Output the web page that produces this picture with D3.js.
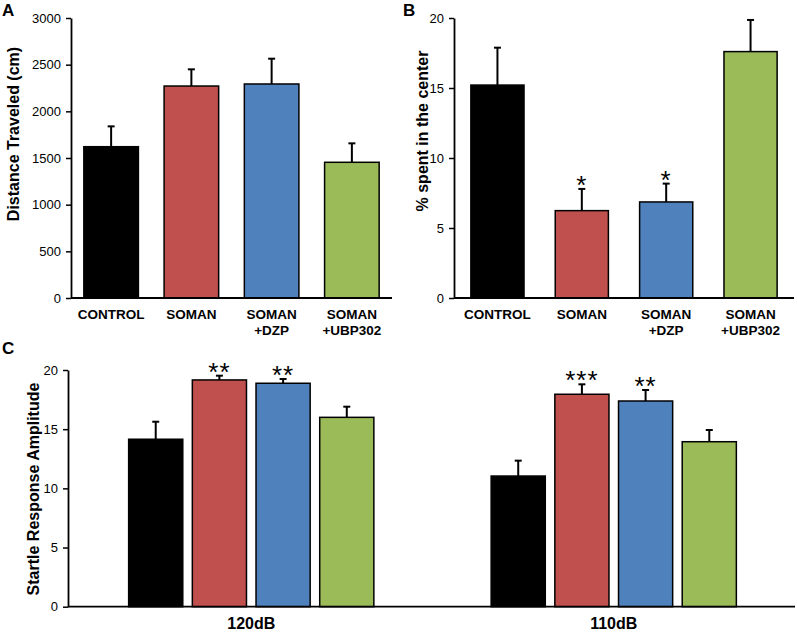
<!DOCTYPE html>
<html>
<head>
<meta charset="utf-8">
<script src="https://cdn.jsdelivr.net/npm/d3@7"></script>
<style>
    body { margin: 0; background: #fff; }
    svg { display: block; font-family: "Liberation Sans", Arial, sans-serif; }
    .cat-label { font-size: 13.5px; font-weight: bold; }
    .axis-title { font-size: 16px; font-weight: bold; }
    .panel-letter { font-size: 17px; font-weight: bold; }
    .star { font-size: 26px; }
</style>
</head>
<body>
<svg id="chart" width="797" height="633"></svg>
<script>
(function () {
    "use strict";

    // Shared groups + colours
    const groupLabels = [["CONTROL"], ["SOMAN"], ["SOMAN", "+DZP"], ["SOMAN", "+UBP302"]];
    const groupColors = ["#000000", "#C0504D", "#4F81BD", "#9BBB59"];

    // Panel A: distance traveled (cm)
    const distMean = [1621, 2271, 2293, 1454];
    const distErr = [218, 179, 271, 203];
    const distTicks = [0, 500, 1000, 1500, 2000, 2500, 3000];

    // Panel B: % time spent in the center
    const centerMean = [15.21, 6.24, 6.86, 17.6];
    const centerErr = [2.67, 1.55, 1.31, 2.26];
    const centerStars = ["", "*", "*", ""];
    const centerTicks = [0, 5, 10, 15, 20];

    // Panel C: startle response amplitude by stimulus level
    const startleLevels = ["120dB", "110dB"];
    const startle120 = [14.15, 19.16, 18.88, 16.0];
    const startle120Err = [1.48, 0.36, 0.36, 0.9];
    const startle120Stars = ["", "**", "**", ""];
    const startle110 = [11.04, 17.95, 17.38, 13.94];
    const startle110Err = [1.3, 0.84, 0.93, 0.99];
    const startle110Stars = ["", "***", "**", ""];
    const startleTicks = [0, 5, 10, 15, 20];

    const svg = d3.select("#chart");

    function yAxis(g, y, ticks, xPos) {
        g.append("g")
            .attr("transform", `translate(${xPos},0)`)
            .call(d3.axisLeft(y).tickValues(ticks).tickFormat(d3.format("d"))
                .tickSize(5).tickSizeOuter(0).tickPadding(5))
            // d3 sets font attrs on the group during call -> override afterwards
            .attr("font-family", "'Liberation Sans', Arial, sans-serif")
            .attr("font-size", 13)
            .call((a) => a.select(".domain").attr("stroke", "#000").attr("stroke-width", 1.8))
            .call((a) => a.selectAll(".tick line").attr("stroke", "#000").attr("stroke-width", 1.5))
            .call((a) => a.selectAll(".tick text").attr("fill", "#000"));
    }

    // bars + upward error bars + significance stars for one set of values
    function drawBars(g, xPos, bw, y, means, errs, stars) {
        const d = means.map((m, i) => ({ i, m, e: errs[i], s: stars ? stars[i] : "" }));

        // error bars first so bar outline sits over the stem base
        g.selectAll(null).data(d).enter().append("line")
            .attr("x1", (v) => xPos(v.i) + bw / 2).attr("x2", (v) => xPos(v.i) + bw / 2)
            .attr("y1", (v) => y(v.m)).attr("y2", (v) => y(v.m + v.e))
            .attr("stroke", "#000").attr("stroke-width", 2);
        g.selectAll(null).data(d).enter().append("line")
            .attr("x1", (v) => xPos(v.i) + bw / 2 - 3.5).attr("x2", (v) => xPos(v.i) + bw / 2 + 3.5)
            .attr("y1", (v) => y(v.m + v.e)).attr("y2", (v) => y(v.m + v.e))
            .attr("stroke", "#000").attr("stroke-width", 2);

        g.selectAll(null).data(d).enter().append("rect")
            .attr("x", (v) => xPos(v.i))
            .attr("y", (v) => y(v.m))
            .attr("width", bw)
            .attr("height", (v) => y(0) - y(v.m))
            .attr("fill", (v) => groupColors[v.i])
            .attr("stroke", "#000")
            .attr("stroke-width", 1.5);

        g.selectAll(null).data(d.filter((v) => v.s)).enter().append("text")
            .attr("class", "star")
            .attr("x", (v) => xPos(v.i) + bw / 2)
            .attr("y", (v) => y(v.m + v.e) + 5)
            .attr("text-anchor", "middle")
            .attr("letter-spacing", 1)
            .text((v) => v.s);
    }

    function categoryPanel(cfg) {
        const g = svg.append("g");
        const x = d3.scaleBand()
            .domain(d3.range(groupLabels.length))
            .range(cfg.xRange)
            .paddingInner(cfg.padIn)
            .paddingOuter(cfg.padOut);
        const y = d3.scaleLinear().domain(cfg.domain).range(cfg.yRange);

        drawBars(g, x, x.bandwidth(), y, cfg.means, cfg.errs, cfg.stars);

        // x axis line
        g.append("line")
            .attr("x1", cfg.xRange[0]).attr("x2", cfg.xRange[1])
            .attr("y1", y(0)).attr("y2", y(0))
            .attr("stroke", "#000").attr("stroke-width", 1.8);
        yAxis(g, y, cfg.ticks, cfg.xRange[0]);

        // two-line category labels
        groupLabels.forEach(function (lines, i) {
            const t = g.append("text")
                .attr("class", "cat-label")
                .attr("text-anchor", "middle")
                .attr("x", x(i) + x.bandwidth() / 2)
                .attr("y", y(0) + 21);
            lines.forEach(function (line, k) {
                t.append("tspan")
                    .attr("x", x(i) + x.bandwidth() / 2)
                    .attr("dy", k === 0 ? 0 : 16)
                    .text(line);
            });
        });

        g.append("text")
            .attr("class", "axis-title")
            .attr("text-anchor", "middle")
            .attr("transform", `translate(${cfg.titleX},${cfg.titleY}) rotate(-90)`)
            .text(cfg.title);

        g.append("text")
            .attr("class", "panel-letter")
            .attr("x", cfg.letterX).attr("y", 16)
            .text(cfg.letter);
    }

    categoryPanel({
        letter: "A", letterX: 2,
        means: distMean, errs: distErr, stars: null,
        domain: [0, 3000], ticks: distTicks,
        xRange: [71, 392], yRange: [298, 18],
        padIn: 0.32, padOut: 0.16,
        title: "Distance Traveled (cm)", titleX: 19, titleY: 134
    });

    categoryPanel({
        letter: "B", letterX: 403,
        means: centerMean, errs: centerErr, stars: centerStars,
        domain: [0, 20], ticks: centerTicks,
        xRange: [454, 794], yRange: [298, 18],
        padIn: 0.37, padOut: 0.2,
        title: "% spent in the center", titleX: 428, titleY: 131
    });

    // Panel C: grouped bars
    const gc = svg.append("g");
    const x0 = d3.scaleBand().domain(startleLevels).range([70, 795]);
    const x1 = d3.scaleBand()
        .domain(d3.range(groupLabels.length))
        .range([-122.6, 122.6])
        .paddingInner(0.15);
    const yc = d3.scaleLinear().domain([0, 20]).range([606.7, 370]);

    const startleSets = [
        { level: "120dB", means: startle120, errs: startle120Err, stars: startle120Stars },
        { level: "110dB", means: startle110, errs: startle110Err, stars: startle110Stars }
    ];
    startleSets.forEach(function (s) {
        const cx = x0(s.level) + x0.bandwidth() / 2;
        drawBars(gc, (i) => cx + x1(i), x1.bandwidth(), yc, s.means, s.errs, s.stars);
        gc.append("text")
            .attr("class", "axis-title")
            .attr("text-anchor", "middle")
            .attr("x", cx).attr("y", 629)
            .text(s.level);
    });

    gc.append("line")
        .attr("x1", 68).attr("x2", 795)
        .attr("y1", yc(0)).attr("y2", yc(0))
        .attr("stroke", "#000").attr("stroke-width", 1.8);
    yAxis(gc, yc, startleTicks, 68);

    gc.append("text")
        .attr("class", "axis-title")
        .attr("text-anchor", "middle")
        .attr("transform", "translate(38.5,489) rotate(-90)")
        .text("Startle Response Amplitude");

    gc.append("text")
        .attr("class", "panel-letter")
        .attr("x", 2).attr("y", 354)
        .text("C");
})();
</script>
</body>
</html>
